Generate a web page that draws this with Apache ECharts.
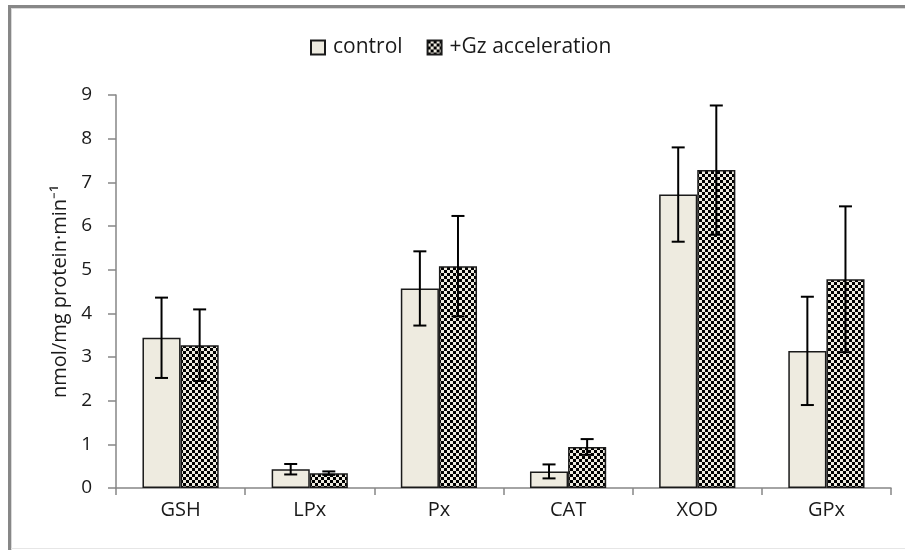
<!DOCTYPE html>
<html>
<head>
<meta charset="utf-8">
<script src="https://cdn.jsdelivr.net/npm/echarts@6/dist/echarts.min.js"></script>
<style>
html,body{margin:0;padding:0;background:#fff;}
#chart{width:905px;height:550px;}
</style>
</head>
<body>
<div id="chart"></div>
<script>
const categories = ['GSH', 'LPx', 'Px', 'CAT', 'XOD', 'GPx'];
const seriesNames = ['control', '+Gz acceleration'];
const controlValues = [3.44, 0.43, 4.57, 0.38, 6.72, 3.14];
const controlErrors = [0.92, 0.12, 0.85, 0.16, 1.08, 1.24];
const accelValues = [3.27, 0.34, 5.08, 0.94, 7.28, 4.78];
const accelErrors = [0.82, 0.04, 1.15, 0.18, 1.48, 1.67];
const yTicks = [0, 1, 2, 3, 4, 5, 6, 7, 8, 9];
const yAxisTitle = 'nmol/mg protein·min⁻¹';

const beige = '#EEEBE0';
const FONT = 'Open Sans';

function makeChecker() {
  const c = document.createElement('canvas');
  const s = 3;
  c.width = s * 2; c.height = s * 2;
  const ctx = c.getContext('2d');
  ctx.fillStyle = beige;
  ctx.fillRect(0, 0, s * 2, s * 2);
  ctx.fillStyle = '#000';
  ctx.fillRect(0, 0, s, s);
  ctx.fillRect(s, s, s, s);
  return c;
}
const checker = { image: makeChecker(), repeat: 'repeat' };

const BAR_FRAC = 0.295; // each bar width as fraction of category width

function errorSeries(values, errors, side) {
  return {
    type: 'custom',
    z: 10,
    silent: true,
    data: values.map((v, i) => [i, v - errors[i], v + errors[i]]),
    renderItem: function (params, api) {
      const i = api.value(0);
      const catW = api.size([1, 0])[0];
      const offset = side * catW * BAR_FRAC / 2;
      const lo = api.coord([i, api.value(1)]);
      const hi = api.coord([i, api.value(2)]);
      const x = lo[0] + offset;
      const cap = 6.5;
      const style = { stroke: '#000', lineWidth: 2 };
      return {
        type: 'group',
        children: [
          { type: 'line', shape: { x1: x, y1: lo[1], x2: x, y2: hi[1] }, style: style },
          { type: 'line', shape: { x1: x - cap, y1: lo[1], x2: x + cap, y2: lo[1] }, style: style },
          { type: 'line', shape: { x1: x - cap, y1: hi[1], x2: x + cap, y2: hi[1] }, style: style }
        ]
      };
    }
  };
}

const chart = echarts.init(document.getElementById('chart'), null, { renderer: 'canvas' });
chart.setOption({
  backgroundColor: '#fff',
  animation: false,
  textStyle: { fontFamily: FONT },
  graphic: [
    { type: 'rect', shape: { x: 8, y: 5, width: 897, height: 3 }, style: { fill: '#878787' } },
    { type: 'rect', shape: { x: 8, y: 5, width: 3, height: 545 }, style: { fill: '#878787' } },
    { type: 'rect', shape: { x: 11, y: 8, width: 894, height: 1 }, style: { fill: '#d9d9d9' } },
    { type: 'rect', shape: { x: 11, y: 8, width: 1, height: 542 }, style: { fill: '#d9d9d9' } },
    { type: 'rect', shape: { x: 11, y: 548, width: 894, height: 1 }, style: { fill: '#e6e6e6' } }
  ],
  legend: {
    top: 32,
    left: 305,
    icon: 'rect',
    itemWidth: 14,
    itemHeight: 14,
    itemGap: 24,
    data: seriesNames,
    textStyle: { fontFamily: FONT, fontSize: 21, color: '#1a1a1a', padding: [0, 0, 0, 3] }
  },
  grid: { left: 116, right: 14, top: 95, bottom: 62, containLabel: false },
  xAxis: {
    type: 'category',
    data: categories,
    axisLine: { lineStyle: { color: '#868686', width: 1.5 } },
    axisTick: { show: true, length: 7, lineStyle: { color: '#868686', width: 1.5 } },
    axisLabel: { fontFamily: FONT, fontSize: 20, color: '#1a1a1a', margin: 12 },
    splitLine: { show: false }
  },
  yAxis: {
    type: 'value',
    min: yTicks[0],
    max: yTicks[yTicks.length - 1],
    interval: 1,
    name: yAxisTitle,
    nameLocation: 'middle',
    nameGap: 42,
    nameRotate: 90,
    nameTextStyle: { fontFamily: FONT, fontSize: 20, color: '#1a1a1a' },
    axisLine: { show: true, lineStyle: { color: '#868686', width: 1.5 } },
    axisTick: { show: true, length: 8, lineStyle: { color: '#868686', width: 1.5 } },
    axisLabel: { fontFamily: FONT, fontSize: 19, color: '#1a1a1a', margin: 24 },
    splitLine: { show: false }
  },
  series: [
    {
      name: seriesNames[0],
      type: 'bar',
      data: controlValues,
      barGap: '0%',
      barCategoryGap: '41%',
      itemStyle: { color: beige, borderColor: '#1a1a1a', borderWidth: 1.5 }
    },
    {
      name: seriesNames[1],
      type: 'bar',
      data: accelValues,
      barGap: '0%',
      barCategoryGap: '41%',
      itemStyle: { color: checker, borderColor: '#1a1a1a', borderWidth: 1.5 }
    },
    errorSeries(controlValues, controlErrors, -1),
    errorSeries(accelValues, accelErrors, 1)
  ]
});
</script>
</body>
</html>
